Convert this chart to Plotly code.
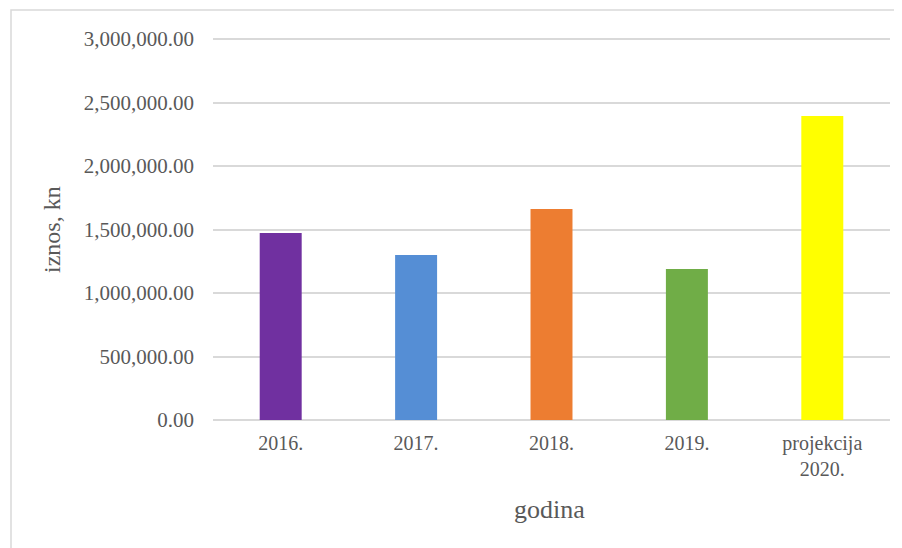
import plotly.graph_objects as go

categories = ["2016.", "2017.", "2018.", "2019.", "projekcija<br>2020."]
values = [1472000, 1300000, 1661000, 1189000, 2393000]
colors = ["#7030A0", "#558ED5", "#ED7D31", "#70AD47", "#FFFF00"]
y_ticks = [0, 500000, 1000000, 1500000, 2000000, 2500000, 3000000]

# page offset from default body margin
OFF = 8
W, H = 902 - OFF, 548 - OFF
# plot area in page coordinates (top slightly above the 3M gridline so it is drawn)
PX0, PX1, PY0, PY1 = 213, 890, 37, 420
L = PX0 - OFF
R = W - (PX1 - OFF)
T = PY0 - OFF
B = H - (PY1 - OFF)
pw = PX1 - PX0
ph = PY1 - PY0
YMAX = 3000000 * ph / (PY1 - 39)

def px_x(x):
    return (x - PX0) / pw

def px_y(y):
    return (PY1 - y) / ph

font_family = "Liberation Serif, Times New Roman, serif"
txt = "#595959"

fig = go.Figure(go.Bar(
    x=categories, y=values, marker=dict(color=colors, line=dict(width=0)),
    width=0.31,
))

fig.update_layout(
    width=W, height=H,
    margin=dict(l=L, r=R, t=T, b=B, autoexpand=False),
    paper_bgcolor="white", plot_bgcolor="white",
    showlegend=False,
    font=dict(family=font_family, color=txt, size=19),
    xaxis=dict(showgrid=False, showline=False, zeroline=False,
               tickfont=dict(size=20, color=txt), ticklabelstandoff=9),
    yaxis=dict(range=[0, YMAX], tickvals=y_ticks, tickformat=",.2f",
               showgrid=True, gridcolor="#d9d9d9", gridwidth=1.5,
               zeroline=True, zerolinecolor="#d9d9d9", zerolinewidth=1.5,
               showline=False, tickfont=dict(size=21, color=txt),
               ticklabelstandoff=18),
    annotations=[
        dict(text="iznos, kn", xref="paper", yref="paper", x=px_x(52), y=px_y(230),
             xanchor="center", yanchor="middle", textangle=-90, showarrow=False,
             font=dict(size=24, color=txt, family=font_family)),
        dict(text="godina", xref="paper", yref="paper", x=px_x(549), y=px_y(509),
             xanchor="center", yanchor="middle", showarrow=False,
             font=dict(size=26, color=txt, family=font_family)),
    ],
    shapes=[dict(type="rect", xref="paper", yref="paper",
                 x0=px_x(11), x1=px_x(900), y0=px_y(570), y1=px_y(10),
                 line=dict(color="#d9d9d9", width=1.5), layer="below")],
)

fig.write_html("out.html")
